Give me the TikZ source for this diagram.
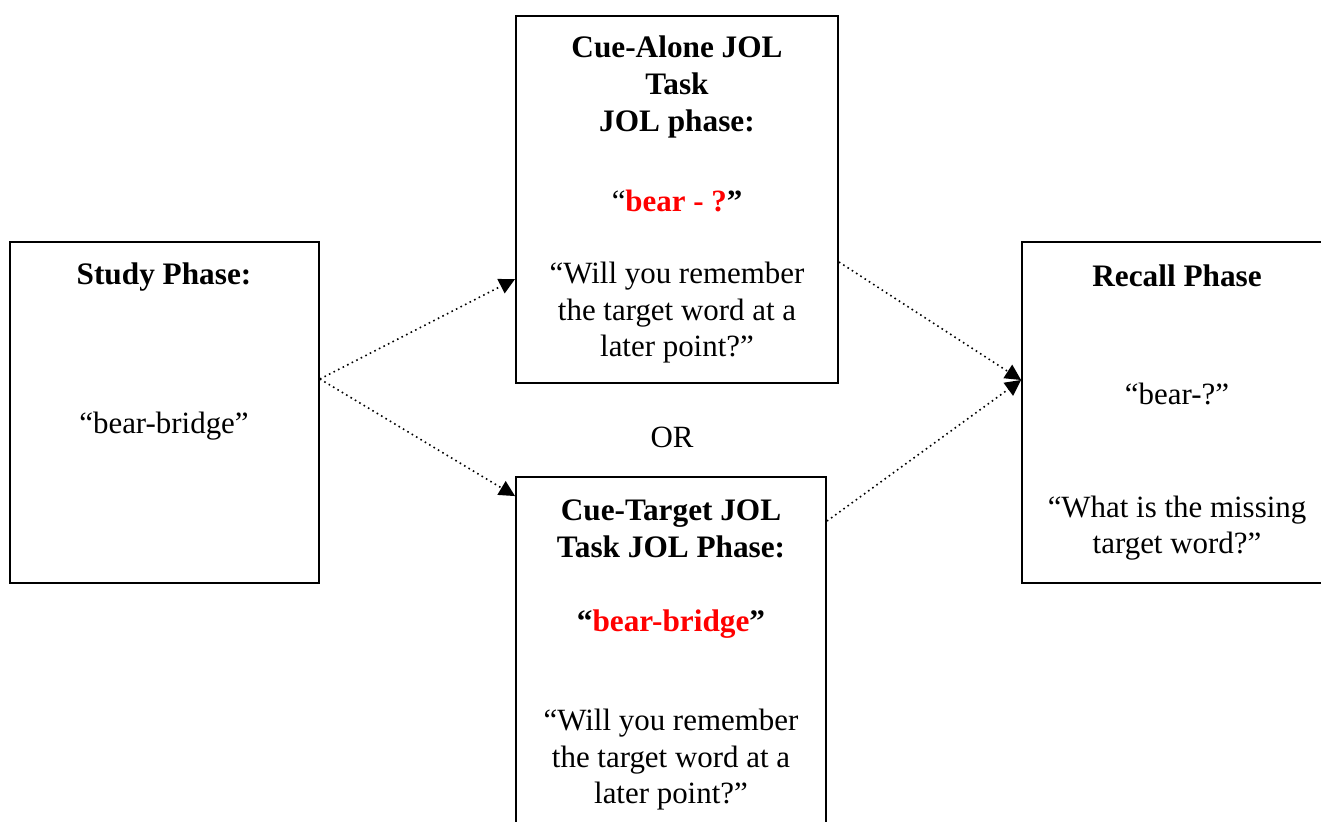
\documentclass[tikz,border=0pt]{standalone}
\usepackage{fontspec}
\setmainfont{Liberation Serif}
\usepackage{xcolor}
\usetikzlibrary{arrows.meta, positioning, calc}

\begin{document}
\begin{tikzpicture}[
  x=0.02cm, y=-0.02cm,
  phase/.style={draw, line width=1.1pt, inner sep=0pt},
  lbl/.style={align=center, inner sep=0pt, font=\fontsize{17.6}{20.8}\selectfont},
  head/.style={align=center, inner sep=0pt, font=\fontsize{17.8}{20.8}\selectfont\bfseries},
  arr/.style={-{Triangle[length=9pt, width=9pt]}, dotted, line width=0.9pt},
]
  \useasboundingbox (0,0) rectangle (1321,821);
  \clip (0,0) rectangle (1321,821);

  % boxes
  \node[phase, minimum width=6.18cm, minimum height=6.82cm] (study) at (164.5,412.5) {};
  \node[phase, minimum width=6.44cm, minimum height=7.34cm] (alone) at (677,199.5) {};
  \node[phase, minimum width=6.20cm, minimum height=8.46cm] (target) at (671,688.5) {};
  \node[phase, minimum width=7.56cm, minimum height=6.82cm] (recall) at (1211,412.5) {};

  % texts
  \node[head] (studyhead) at (164,277) {Study Phase:};
  \node[lbl] (studypair) at (164,426) {“bear-bridge”};

  \node[head] (alonehead) at (677,87) {Cue-Alone JOL\\Task\\JOL phase:};
  \node[lbl] (alonecue) at (677,201) {“\textcolor{red}{\bfseries bear - ?}\textbf{”}};
  \node[lbl] (aloneq) at (677,313) {“Will you remember\\the target word at a\\later point?”};

  \node[lbl] (or) at (672,437) {OR};

  \node[head] (targethead) at (671,529) {Cue-Target JOL\\Task JOL Phase:};
  \node[head] (targetcue) at (671,624) {“\textcolor{red}{bear-bridge}”};
  \node[lbl] (targetq) at (671,760) {“Will you remember\\the target word at a\\later point?”};

  \node[head] (recallhead) at (1177,276) {Recall Phase};
  \node[lbl] (recallcue) at (1177,394) {“bear-?”};
  \node[lbl] (recallq) at (1177,528) {“What is the missing\\target word?”};

  % connectors
  \coordinate (fork) at ($(study.east)+(0,-33.5)$);
  \coordinate (alonein) at ($(alone.west)+(0,79.5)$);
  \coordinate (targetin) at ($(target.north west)+(0,20)$);
  \coordinate (aloneout) at ($(alone.east)+(0,62.5)$);
  \coordinate (targetout) at ($(target.north east)+(0,45)$);
  \coordinate (recallin) at ($(recall.west)+(0,-32.5)$);

  \draw[arr] (fork) -- (alonein);
  \draw[arr] (fork) -- (targetin);
  \draw[arr] (aloneout) -- (recallin);
  \draw[arr] (targetout) -- (recallin);
\end{tikzpicture}
\end{document}
